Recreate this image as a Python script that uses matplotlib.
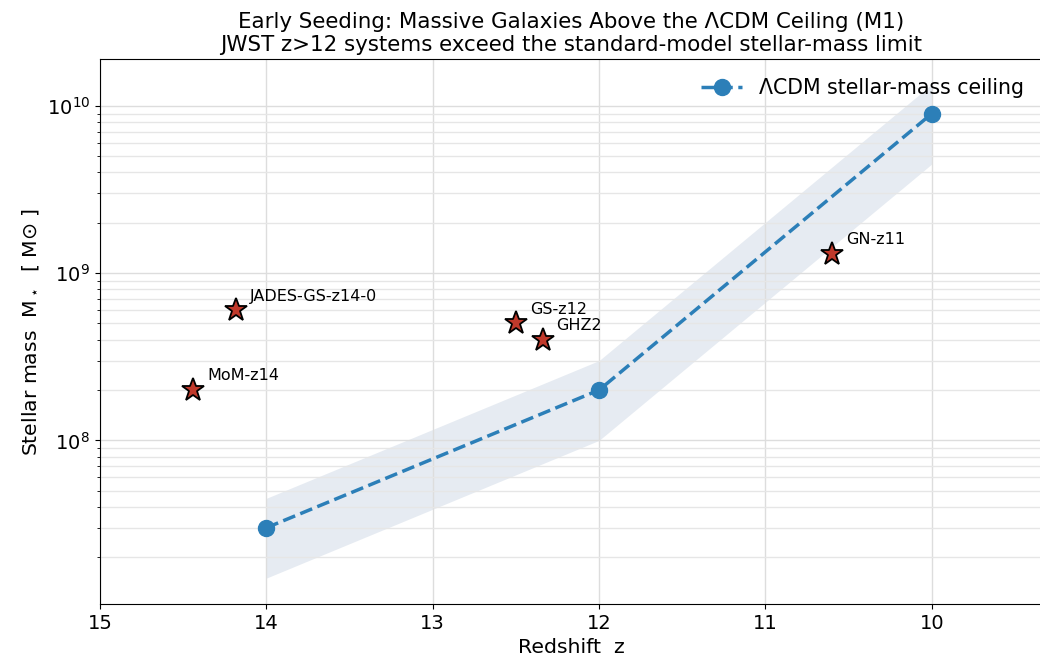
import numpy as np
import matplotlib
matplotlib.use("Agg")
import matplotlib.pyplot as plt

# LCDM ceiling
ceiling_z = [14, 12, 10]
ceiling_mass = [3e7, 2e8, 9e9]
band_lo = [1.5e7, 1e8, 4.5e9]
band_hi = [4.5e7, 3e8, 1.35e10]

# JWST galaxies
gal_names = ["MoM-z14", "JADES-GS-z14-0", "GS-z12", "GHZ2", "GN-z11"]
gal_z = [14.44, 14.18, 12.5, 12.34, 10.6]
gal_mass = [2e8, 6e8, 5e8, 4e8, 1.3e9]

fig = plt.figure(figsize=(10.4, 6.66), dpi=100)
# axes runs slightly past the right edge (right spine cut off, as in the source)
ax = fig.add_axes([0.096, 0.093, 0.906, 0.818])

ax.fill_between(ceiling_z, band_lo, band_hi, color="#8fa6c4", alpha=0.22, lw=0)
ax.plot(ceiling_z, ceiling_mass, "--o", color="#2c7fb8", lw=2.5, ms=11.5,
        label="ΛCDM stellar-mass ceiling")

ax.plot(gal_z, gal_mass, "*", ls="none", ms=17, color="#c0392b",
        markeredgecolor="black", markeredgewidth=1.3)
for name, z, m in zip(gal_names, gal_z, gal_mass):
    ax.annotate(name, (z, m), xytext=(10, 7), textcoords="offset points",
                fontsize=11.5)

ax.set_yscale("log")
ax.set_xlim(15, 9.338)
ax.set_ylim(1.05e7, 1.9e10)
ax.set_xticks([15, 14, 13, 12, 11, 10])
ax.grid(True, which="major", color="#dddddd", lw=1)
ax.grid(True, which="minor", axis="y", color="#e6e6e6", lw=1)
ax.tick_params(labelsize=14)

ax.set_xlabel("Redshift  z", fontsize=14.7)
ax.set_ylabel("Stellar mass  M$_\\star$  [ M$\\odot$ ]", fontsize=14.7)
ax.set_title("Early Seeding: Massive Galaxies Above the ΛCDM Ceiling (M1)\n"
             "JWST z>12 systems exceed the standard-model stellar-mass limit",
             fontsize=15.4)
ax.legend(loc="upper right", frameon=False, fontsize=14.8)

fig.savefig("out.png", dpi=100)
